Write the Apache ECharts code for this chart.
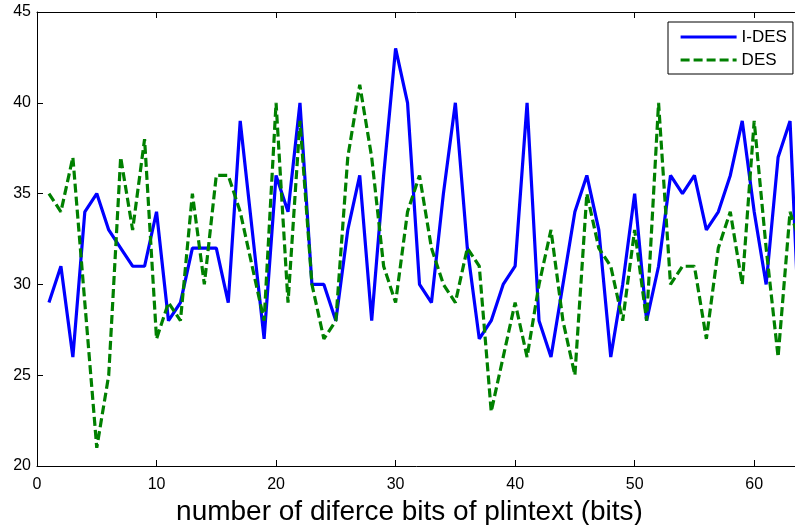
<!DOCTYPE html>
<html>
<head>
<meta charset="utf-8">
<script src="https://cdn.jsdelivr.net/npm/echarts@6/dist/echarts.min.js"></script>
<style>html,body{margin:0;padding:0;background:#fff}#c{width:795px;height:525px}</style>
</head>
<body>
<div id="c"></div>
<script>
var xValues = [];
for (var i = 1; i <= 64; i++) xValues.push(i);
var idesValues = [29,31,26,34,35,33,32,31,31,34,28,29,32,32,32,29,39,33,27,36,34,40,30,30,28,33,36,28,36,43,40,30,29,35,40,32,27,28,30,31,40,28,26,30,34,36,33,26,30,35,28,31,36,35,36,33,34,36,39,34,30,37,39,24];
var desValues = [35,34,37,29,21,25,37,33,38,27,29,28,35,30,36,36,34,31,28,40,29,39,30,27,28,37,41,37,31,29,34,36,32,30,29,32,31,23,26,29,26,30,33,28,25,35,32,31,28,33,28,40,30,31,31,27,32,34,30,39,32,26,34,32];
var seriesNames = ['I-DES', 'DES'];
var xTitle = 'number of diferce bits of plintext (bits)';

function pairs(v){ return v.map(function(y, k){ return [xValues[k], y]; }); }

var chart = echarts.init(document.getElementById('c'));
var font = 'Liberation Sans, Arial, sans-serif';
chart.setOption({
  animation: false,
  backgroundColor: '#fff',
  grid: { left: 37, top: 12, width: 765, height: 454, outerBoundsMode: 'none', containLabel: false },
  legend: {
    orient: 'vertical', left: 668, top: 22,
    data: seriesNames,
    itemWidth: 56, itemHeight: 12, itemGap: 3,
    padding: [5, 6, 4, 11],
    backgroundColor: '#fff', borderColor: '#000', borderWidth: 1,
    itemStyle: { opacity: 0 },
    lineStyle: { width: 3.2 },
    textStyle: { fontFamily: font, fontSize: 17, color: '#000', lineHeight: 20 }
  },
  xAxis: [{
    type: 'value', min: 0, max: 64, interval: 10, position: 'bottom',
    axisLine: { show: true, onZero: false, lineStyle: { color: '#000', width: 1 } },
    axisTick: { show: true, inside: true, length: 6, lineStyle: { color: '#000' } },
    axisLabel: { fontFamily: font, fontSize: 16, color: '#000', margin: 11, showMaxLabel: false },
    splitLine: { show: false },
    name: xTitle, nameLocation: 'middle', nameGap: 27,
    nameTextStyle: { fontFamily: font, fontSize: 28, color: '#000', padding: [0, 20, 0, 0] }
  }, {
    type: 'value', min: 0, max: 64, interval: 10, position: 'top',
    axisLine: { show: true, onZero: false, lineStyle: { color: '#000', width: 1 } },
    axisTick: { show: true, inside: true, length: 6, lineStyle: { color: '#000' } },
    axisLabel: { show: false }, splitLine: { show: false }
  }],
  yAxis: [{
    type: 'value', min: 20, max: 45, interval: 5, position: 'left',
    axisLine: { show: true, onZero: false, lineStyle: { color: '#000', width: 1 } },
    axisTick: { show: true, inside: true, length: 6, lineStyle: { color: '#000' } },
    axisLabel: { fontFamily: font, fontSize: 16, color: '#000', margin: 6 },
    splitLine: { show: false }
  }, {
    type: 'value', min: 20, max: 45, interval: 5, position: 'right',
    axisLine: { show: true, onZero: false, lineStyle: { color: '#000', width: 1 } },
    axisTick: { show: true, inside: true, length: 6, lineStyle: { color: '#000' } },
    axisLabel: { show: false }, splitLine: { show: false }
  }],
  series: [{
    name: seriesNames[0], type: 'line', data: pairs(idesValues),
    symbol: 'none', color: '#0000ff',
    lineStyle: { color: '#0000ff', width: 3.2, type: 'solid' }
  }, {
    name: seriesNames[1], type: 'line', data: pairs(desValues),
    symbol: 'none', color: '#008000',
    lineStyle: { color: '#008000', width: 3.2, type: [9, 4] }
  }]
});
</script>
</body>
</html>
